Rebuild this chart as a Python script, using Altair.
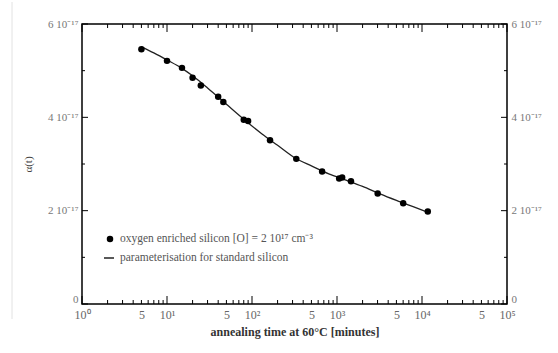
import altair as alt
import pandas as pd

# measured points (alpha in units of 1e-17)
t_points = [5, 10, 15, 20, 25, 40, 46, 80, 90, 163, 332, 668, 1060, 1150, 1460, 3010, 6010, 11700]
alpha_points = [5.46, 5.21, 5.06, 4.85, 4.68, 4.44, 4.33, 3.95, 3.92, 3.51, 3.11, 2.84, 2.69, 2.71, 2.63, 2.37, 2.16, 1.98]

# parameterisation curve
t_line = [5, 7, 10, 15, 20, 30, 50, 80, 130, 200, 320, 500, 800, 1300, 2000, 3200, 5000, 8000, 12000]
alpha_line = [5.51, 5.38, 5.23, 5.05, 4.89, 4.63, 4.28, 3.96, 3.65, 3.40, 3.13, 2.96, 2.79, 2.65, 2.52, 2.36, 2.22, 2.08, 1.96]

# ticks
x_label_values = [1, 5, 10, 50, 100, 500, 1000, 5000, 10000, 50000, 100000]
x_label_texts = ["10\u2070", "5", "10\u00b9", "5", "10\u00b2", "5", "10\u00b3", "5", "10\u2074", "5", "10\u2075"]
x_major = [1, 10, 100, 1000, 10000, 100000]
x_minor = [k * 10 ** d for d in range(5) for k in range(2, 10)]
y_label_values = [0, 2, 4, 6]
y_label_texts = ["0", "2 10\u207b\u00b9\u2077", "4 10\u207b\u00b9\u2077", "6 10\u207b\u00b9\u2077"]
y_minor = [1, 3, 5]

W, H = 425, 280
SERIF = "Liberation Serif"

def expr_from(values, texts):
    e = "''"
    for v, t in reversed(list(zip(values, texts))):
        e = f"datum.value == {v} ? '{t}' : ({e})"
    return e

xscale = alt.Scale(type="log", domain=[1, 100000])
yscale = alt.Scale(domain=[0, 6])

pts = pd.DataFrame({"t": t_points, "a": alpha_points})
crv = pd.DataFrame({"t": t_line, "a": alpha_line})

zero_up = {"condition": {"test": "datum.value == 0", "value": "bottom"}, "value": "middle"}

x_axis = alt.Axis(values=x_label_values, labelExpr=expr_from(x_label_values, x_label_texts),
                  ticks=False, domain=False, grid=False, labelPadding=5, labelFontSize=12,
                  labelColor="#666", labelFont=SERIF, title="annealing time at 60°C [minutes]",
                  titleFont=SERIF, titleFontSize=12, titleFontWeight="bold", titleColor="#333",
                  titlePadding=6, labelFlush=False, labelOverlap=False)
y_axis_left = alt.Axis(values=y_label_values, labelExpr=expr_from(y_label_values, y_label_texts),
                       ticks=False, domain=False, grid=False, labelPadding=4, labelFontSize=11,
                       labelColor="#777", labelFont=SERIF, title="\u03b1(t)", titleFont=SERIF,
                       titleFontSize=11, titleColor="#444", titleFontWeight="normal", titlePadding=14,
                       orient="left", labelFlush=False, labelBaseline=zero_up)
y_axis_right = alt.Axis(values=y_label_values, labelExpr=expr_from(y_label_values, y_label_texts),
                        ticks=False, domain=False, grid=False, labelPadding=4, labelFontSize=11,
                        labelColor="#777", labelFont=SERIF, title=None, orient="right", labelFlush=False,
                        labelBaseline=zero_up)

line = alt.Chart(crv).mark_line(color="#222", strokeWidth=1.3, interpolate="monotone").encode(
    x=alt.X("t:Q", scale=xscale, axis=x_axis),
    y=alt.Y("a:Q", scale=yscale, axis=y_axis_left),
)
points = alt.Chart(pts).mark_circle(color="black", opacity=1, size=42).encode(
    x=alt.X("t:Q", scale=xscale, axis=None),
    y=alt.Y("a:Q", scale=yscale, axis=y_axis_right),
)

def xticks(vals, y0, y1):
    return alt.Chart(pd.DataFrame({"t": vals})).mark_rule(color="black", strokeWidth=1).encode(
        x=alt.X("t:Q", scale=xscale, axis=None), y=alt.value(y0), y2=alt.value(y1))

def yticks(vals, x0, x1):
    return alt.Chart(pd.DataFrame({"a": vals})).mark_rule(color="black", strokeWidth=1).encode(
        y=alt.Y("a:Q", scale=yscale, axis=None), x=alt.value(x0), x2=alt.value(x1))

ticks = [
    xticks(x_major, H, H - 8), xticks(x_minor, H, H - 4),
    xticks(x_major, 0, 8), xticks(x_minor, 0, 4),
    yticks(y_label_values, 0, 6), yticks(y_minor, 0, 3),
    yticks(y_label_values, W, W - 6), yticks(y_minor, W, W - 3),
]

leg_dot = alt.Chart(pd.DataFrame({"k": [0]})).mark_circle(color="black", size=42, opacity=1).encode(
    x=alt.value(28), y=alt.value(215))
leg_dash = alt.Chart(pd.DataFrame({"k": [0]})).mark_rule(color="#222", strokeWidth=1.5).encode(
    x=alt.value(22), x2=alt.value(32), y=alt.value(234))
leg_text = alt.Chart(pd.DataFrame({
    "txt": ["oxygen enriched silicon [O] = 2 10\u00b9\u2077 cm\u207b\u00b3", "parameterisation for standard silicon"],
    "yy": [215, 234]})).mark_text(align="left", baseline="middle", font=SERIF, fontSize=11.5,
                                   color="#555").encode(x=alt.value(38), y=alt.Y("yy:Q", scale=None, axis=None), text="txt:N")

border = alt.Chart(pd.DataFrame({"k": [0]})).mark_rule(color="#e2e2e2", strokeWidth=1).encode(
    x=alt.value(-70), y=alt.value(-22), y2=alt.value(H + 15))

chart = alt.layer(border, line, points, *ticks, leg_dot, leg_dash, leg_text).resolve_axis(
    x="independent", y="independent"
).properties(
    width=W, height=H,
    background="white",
    autosize=alt.AutoSizeParams(type="none"),
    padding={"left": 82, "top": 24, "right": 51, "bottom": 49},
).configure_view(stroke="black", strokeWidth=1.5)

chart.save("out.html", embed_options={"renderer": "svg", "actions": False})
